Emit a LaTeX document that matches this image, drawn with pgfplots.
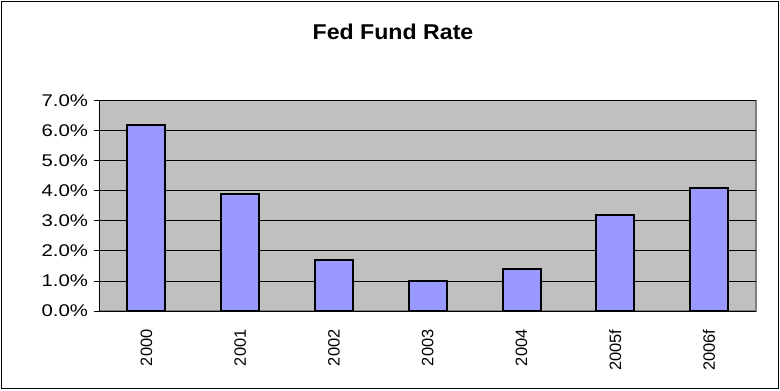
\documentclass[border=0pt]{standalone}
\usepackage{pgfplots}
\pgfplotsset{compat=1.18}
\usepackage{fontspec}
\setmainfont{Liberation Sans}
\newfontfamily\yfont{Liberation Sans}[FakeStretch=1.2]
\newfontfamily\tfont{Liberation Sans}[FakeStretch=1.08]
\definecolor{barfill}{HTML}{9999FF}
\definecolor{plotbg}{HTML}{C0C0C0}
\definecolor{frameg}{HTML}{808080}
\begin{document}
\begin{tikzpicture}[x=1bp,y=1bp]
\useasboundingbox (0,0) rectangle (780,390);
\draw[black, line width=0.8bp] (1.5,1.5) rectangle (778.5,388.5);
\node[font={\tfont\bfseries\fontsize{21.5}{24}\selectfont}] at (393,358) {Fed Fund Rate};
\begin{axis}[
  at={(99.5bp,79bp)}, anchor=south west,
  scale only axis, width=656.5bp, height=210.5bp,
  xmin=-0.5, xmax=6.5, ymin=0, ymax=7,
  axis background/.style={fill=plotbg, draw=frameg, line width=1.2bp},
  separate axis lines,
  axis x line*=bottom, axis y line*=left,
  axis line style={black, line width=0.8bp, -},
  xtick={0,1,2,3,4,5,6},
  xticklabels={2000,2001,2002,2003,2004,2005f,2006f},
  x tick label style={rotate=90, anchor=east, font={\fontsize{16.5}{18}\selectfont}},
  xticklabel shift=9bp,
  major x tick style={draw=none},
  extra x ticks={-0.5,0.5,1.5,2.5,3.5,4.5,5.5,6.5},
  extra x tick labels={},
  extra x tick style={major tick length=5bp, tick style={black, line width=0.8bp}, tick align=outside},
  ytick={0,1,2,3,4,5,6,7},
  yticklabels={0.0\%,1.0\%,2.0\%,3.0\%,4.0\%,5.0\%,6.0\%,7.0\%},
  y tick label style={font={\yfont\fontsize{17}{19}\selectfont}, xshift=-2bp},
  ytick style={black, line width=0.8bp},
  tick align=outside, major tick length=6bp,
  ymajorgrids, grid style={black, line width=0.8bp},
  ybar, bar width=38bp,
]
\addplot[fill=barfill, draw=black, line width=2bp] coordinates {
  (0,6.2) (1,3.9) (2,1.7) (3,1.0) (4,1.4) (5,3.2) (6,4.1)
};
\end{axis}
\end{tikzpicture}
\end{document}
